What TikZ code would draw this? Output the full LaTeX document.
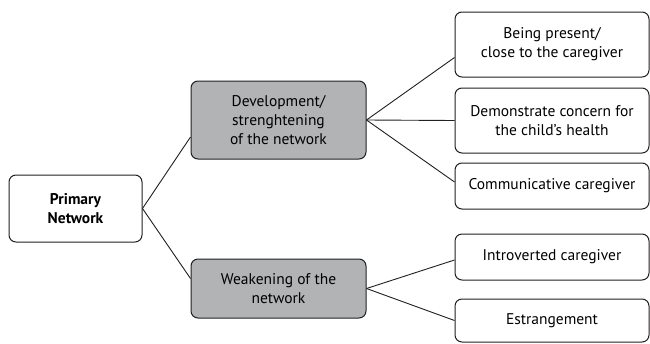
\documentclass[tikz,border=0pt]{standalone}
\usepackage{fontspec}
\setmainfont{PT Sans}
\definecolor{boxgrey}{RGB}{178,179,181}
\definecolor{edgegrey}{RGB}{35,31,32}

\begin{document}
\begin{tikzpicture}[x=1pt,y=-1pt,
		box/.style={draw=edgegrey, line width=1pt, rounded corners=7pt, align=center, inner sep=2pt, font=\fontsize{15.5}{19}\selectfont},
		greybox/.style={box, fill=boxgrey, minimum width=175pt},
		leafbox/.style={box, minimum width=194pt},
		link/.style={draw=edgegrey, line width=0.9pt}]
		\useasboundingbox (0,0) rectangle (650,343);
		% root
		\node[box, minimum width=133pt, minimum height=67pt, font=\fontsize{15.5}{19}\selectfont\bfseries] (prim) at (75.5,208.5) {Primary\\Network};
		% middle level
		\node[greybox, minimum height=78pt] (dev) at (278.5,120) {Development/\\strenghtening\\of the network};
		\node[greybox, minimum height=59pt] (weak) at (278.5,288.5) {Weakening of the\\network};
		% leaves
		\node[leafbox, minimum height=65pt] (present) at (552,44.5) {Being present/\\close to the caregiver};
		\node[leafbox, minimum height=65pt] (concern) at (552,120.5) {Demonstrate concern for\\the child's health};
		\node[leafbox, minimum height=46pt] (commun) at (552,186) {Communicative caregiver};
		\node[leafbox, minimum height=46pt] (introv) at (552,257) {Introverted caregiver};
		\node[leafbox, minimum height=43pt] (estr) at (552,320.5) {Estrangement};
		% connectors
		\draw[link] (prim.east) -- ([yshift=-17pt]dev.west);
		\draw[link] (prim.east) -- ([yshift=10pt]weak.west);
		\draw[link] (dev.east) -- ([yshift=-13pt]present.west);
		\draw[link] (dev.east) -- (concern.west);
		\draw[link] (dev.east) -- ([yshift=4pt]commun.west);
		\draw[link] (weak.east) -- ([yshift=-3pt]introv.west);
		\draw[link] (weak.east) -- (estr.west);
	\end{tikzpicture}
\end{document}
